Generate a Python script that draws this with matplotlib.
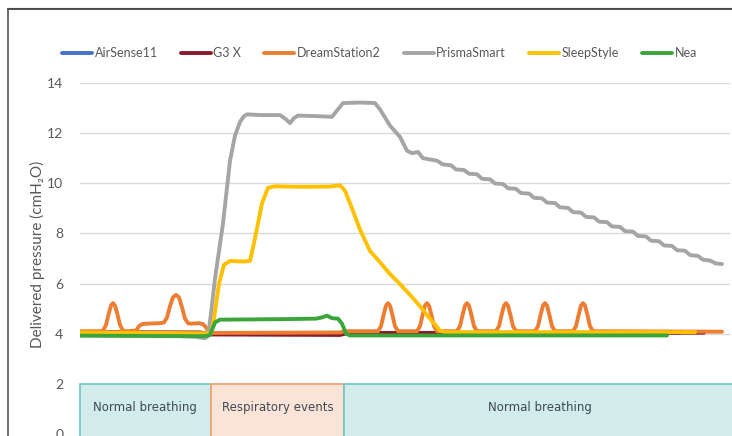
import matplotlib.pyplot as plt
from matplotlib.patches import Rectangle
from matplotlib.lines import Line2D
from matplotlib import font_manager

# time axis in arbitrary units (0..325)
airsense_t = [0, 60, 300]
airsense_v = [4.02, 4.02, 4.03]

g3x_t = [0, 60, 65, 130, 134, 312]
g3x_v = [4.06, 4.05, 3.97, 3.95, 4.03, 4.04]

dream_t = [0, 10, 11.5, 13, 14.3, 15.5, 16.5, 17.5, 18.7, 20, 21.5, 23, 28, 29.5, 31, 33, 40, 42, 43.5,
           45, 46.5, 48, 49.5, 51, 52.5, 54, 55.5, 59.5, 61.5, 63, 64.5, 66, 130, 132.5, 145, 149,
           150.5, 151.8, 153, 154, 155, 156.2, 157.5, 159,
           168.5, 170, 171.3, 172.5, 173.5, 174.5, 175.7, 177, 178.5,
           188.5, 190, 191.3, 192.5, 193.5, 194.5, 195.7, 197, 198.5,
           208, 209.5, 210.8, 212, 213, 214, 215.2, 216.5, 218,
           227.5, 229, 230.3, 231.5, 232.5, 233.5, 234.7, 236, 237.5,
           246.5, 248, 249.3, 250.5, 251.5, 252.5, 253.7, 255, 256.5, 321]
dream_v = [4.1, 4.1, 4.12, 4.35, 4.78, 5.12, 5.22, 5.12, 4.78, 4.35, 4.12, 4.1, 4.12, 4.3, 4.38, 4.4, 4.42,
           4.45, 4.65, 5.1, 5.45, 5.55, 5.45, 5.05, 4.6, 4.42, 4.4, 4.42, 4.38, 4.25, 4.08, 4.03, 4.05,
           4.1, 4.1, 4.1,
           4.3, 4.75, 5.12, 5.22, 5.12, 4.75, 4.3, 4.1,
           4.1, 4.3, 4.75, 5.12, 5.22, 5.12, 4.75, 4.3, 4.1,
           4.1, 4.3, 4.75, 5.12, 5.22, 5.12, 4.75, 4.3, 4.1,
           4.1, 4.3, 4.75, 5.12, 5.22, 5.12, 4.75, 4.3, 4.1,
           4.1, 4.3, 4.75, 5.12, 5.22, 5.12, 4.75, 4.3, 4.1,
           4.1, 4.3, 4.75, 5.12, 5.22, 5.12, 4.75, 4.3, 4.1, 4.08]

prisma_t = [0, 20, 40, 57.5, 62.5, 64, 65.5, 67.5, 71.5, 75, 77.5, 80, 82, 83.5, 90, 100, 103, 105, 107, 109,
            117.5, 126, 128.5, 131.5, 140, 147.5, 150, 155, 160, 163.5, 166, 169, 171.5, 175, 178.5,
            181.5, 185.5, 188, 192, 194.5, 198.5, 201, 205, 207.5, 211.5, 214, 218, 220.5, 224.5,
            227, 231, 233.5, 237.5, 240, 244, 246.5, 250.5, 253, 257, 259.5, 263.5, 266, 270,
            272.5, 276.5, 279, 283, 285.5, 289.5, 292, 296, 298.5, 302.5, 305, 309, 311.5, 315, 318, 321]
prisma_v = [4.0, 3.98, 3.93, 3.88, 3.82, 3.9, 4.8, 6.2, 8.4, 10.9, 11.9, 12.45, 12.68, 12.75, 12.72, 12.72,
            12.55, 12.4, 12.6, 12.7,
            12.68, 12.65, 12.9, 13.2, 13.22, 13.2, 12.95, 12.3, 11.85, 11.3, 11.2, 11.25, 11.0, 10.95, 10.9,
            10.75, 10.72, 10.55, 10.53, 10.38, 10.36, 10.18, 10.16, 9.99, 9.97, 9.80, 9.78, 9.61, 9.59,
            9.42, 9.40, 9.23, 9.21, 9.04, 9.02, 8.85, 8.83, 8.66, 8.64, 8.47, 8.45, 8.28, 8.26,
            8.09, 8.07, 7.90, 7.88, 7.71, 7.69, 7.52, 7.50, 7.33, 7.31, 7.14, 7.10, 6.95, 6.92, 6.80, 6.78]

sleep_t = [0, 62.5, 65.5, 67, 69.5, 72, 75, 81.5, 85, 87.5, 91, 94, 97.5, 110, 125, 130,
           132.5, 136, 140, 145, 150, 155, 160, 165, 170, 175, 180, 182.5, 307.5]
sleep_v = [4.05, 4.02, 4.0, 4.6, 6.0, 6.75, 6.9, 6.88, 6.9, 7.8, 9.2, 9.82, 9.88, 9.86, 9.87, 9.92,
           9.7, 9.0, 8.15, 7.3, 6.85, 6.38, 5.98, 5.55, 5.1, 4.6, 4.12, 4.06, 4.06]

nea_t = [0, 62.5, 65, 67.5, 70, 100, 118, 121, 123.5, 126, 129, 131, 133, 135, 293.5]
nea_v = [3.92, 3.9, 3.95, 4.45, 4.56, 4.58, 4.6, 4.65, 4.72, 4.62, 4.6, 4.4, 4.0, 3.93, 3.93]

phase_labels = ['Normal breathing', 'Respiratory events', 'Normal breathing']
phase_start = [0, 65.5, 132]
phase_end = [65.5, 132, 340]
phase_text_x = [32.7, 98.7, 230]

series = [
    ('AirSense11', airsense_t, airsense_v, '#4472c4'),
    ('G3 X', g3x_t, g3x_v, '#8b1a2b'),
    ('DreamStation2', dream_t, dream_v, '#ed7d31'),
    ('PrismaSmart', prisma_t, prisma_v, '#a5a5a5'),
    ('SleepStyle', sleep_t, sleep_v, '#ffc000'),
    ('Nea', nea_t, nea_v, '#3aa53a'),
]

font_names = {f.name for f in font_manager.fontManager.ttflist}
narrow = 'Liberation Sans Narrow' if 'Liberation Sans Narrow' in font_names else 'DejaVu Sans'
plt.rcParams['font.family'] = ['Lato', 'DejaVu Sans']

fig = plt.figure(figsize=(7.32, 4.36), dpi=100)
ax = fig.add_axes([80 / 732, -3 / 436, 650 / 732, 356 / 436])
ax.set_xlim(0, 325)
ax.set_ylim(-0.2, 14)

for y in [4, 6, 8, 10, 12, 14]:
    ax.axhline(y, color='#d9d9d9', lw=1, zorder=0)

for name, t, v, c in series:
    ax.plot(t, v, color=c, lw=2.8, label=name, solid_capstyle='round',
            solid_joinstyle='round', zorder=3)

box_styles = [('#d2ebeb', '#6ec6bf'), ('#fbe4d7', '#f0a06c'), ('#d2ebeb', '#6ec6bf')]
for lab, s, e, tx, (fc, ec) in zip(phase_labels, phase_start, phase_end, phase_text_x, box_styles):
    ax.add_patch(Rectangle((s, -1), e - s, 3, facecolor=fc, edgecolor=ec, lw=1.2,
                           zorder=2, clip_on=False))
    ax.text(tx, 1.05, lab, ha='center', va='center',
            fontsize=8.5, color='#3d4a55', family=narrow, zorder=4)

ax.set_yticks(range(0, 15, 2))
ax.set_xticks([])
ax.tick_params(axis='y', length=0, pad=12, labelsize=10, labelcolor='#595959')
for sp in ax.spines.values():
    sp.set_visible(False)

fig.text(37 / 732, (436 - 254) / 436, 'Delivered pressure (cmH\u2082O)', rotation=90,
         ha='center', va='center', fontsize=11, color='#595959')

fig.legend(loc='center left', bbox_to_anchor=(62 / 732, (436 - 53) / 436), ncol=6,
           frameon=False, fontsize=9, handlelength=2.4, handletextpad=0.2,
           columnspacing=1.85, borderpad=0, borderaxespad=0, labelcolor='#595959')

# frame of the surrounding document
fig.add_artist(Line2D([8 / 732, 1], [(436 - 8) / 436] * 2, color='#c8c8c8', lw=1))
fig.add_artist(Line2D([8 / 732, 1], [(436 - 9.5) / 436] * 2, color='#333333', lw=1.2))
fig.add_artist(Line2D([8 / 732] * 2, [0, (436 - 9.5) / 436], color='#555555', lw=1.2))

fig.savefig('out.png', dpi=100)
